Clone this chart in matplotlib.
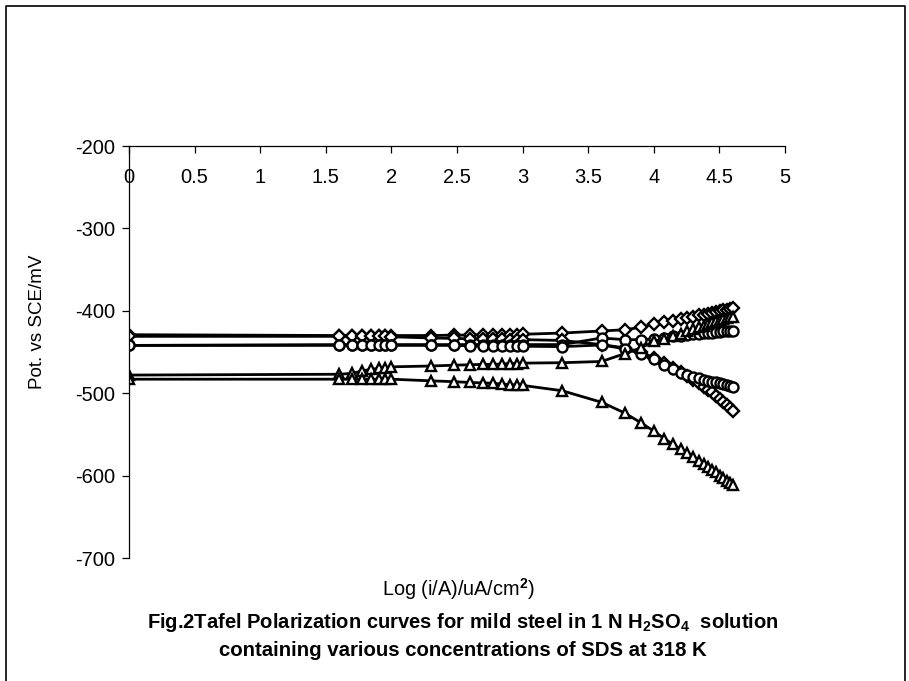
import matplotlib
matplotlib.use("Agg")
import matplotlib.pyplot as plt
from matplotlib.lines import Line2D

plt.rcParams['font.family'] = ['Liberation Sans', 'DejaVu Sans']
plt.rcParams['mathtext.fontset'] = 'custom'
plt.rcParams['mathtext.rm'] = 'Liberation Sans'
plt.rcParams['mathtext.bf'] = 'Liberation Sans:bold'
plt.rcParams['axes.unicode_minus'] = False

# log(i) values, same for every curve
log_i = [0, 1.602, 1.699, 1.778, 1.845, 1.903, 1.954, 2.0,
         2.301, 2.477, 2.602, 2.699, 2.778, 2.845, 2.903, 2.954, 3.0,
         3.301, 3.602, 3.778, 3.903, 4.0,
         4.079, 4.146, 4.204, 4.255, 4.301, 4.342, 4.380, 4.415,
         4.447, 4.477, 4.505, 4.531, 4.556, 4.580, 4.602]

diamond_anodic = [-429, -430, -430, -430, -430, -430, -430, -430,
                  -430, -429.5, -429.5, -429, -429, -429, -429, -429, -428.5,
                  -427, -424.5, -423, -420, -416,
                  -414, -412, -410, -408.5, -407, -405.5, -404.5, -403.5,
                  -402.5, -401.5, -400.5, -399.5, -399, -398, -397]
diamond_cathodic = [-431, -431, -431, -431, -431, -431, -431, -431.5,
                    -433, -433.5, -434, -434, -434.5, -434.5, -435, -435, -435,
                    -436, -441, -445, -450, -457,
                    -463, -469, -474, -479, -484, -488, -492, -496,
                    -499, -503, -507, -511, -514, -518, -522]
circle_anodic = [-442, -441, -441, -441, -441, -441, -441, -441,
                 -441, -441, -441, -441, -441, -441, -441, -441, -441,
                 -441, -433, -435, -435, -434,
                 -432.5, -431, -430, -429, -428.5, -428, -427.5, -427,
                 -426.5, -426, -425.5, -425, -425, -424.5, -424]
circle_cathodic = [-442, -442, -442, -442, -442, -442, -442, -442,
                   -442, -442, -442.5, -442.5, -442.5, -443, -443, -443, -443,
                   -443.5, -441.5, -446, -452, -459,
                   -466, -471, -475, -478, -480, -482, -483.5, -485,
                   -486, -487, -488, -489, -490, -491, -492]
triangle_anodic = [-478, -477, -476, -473, -471, -470, -469, -468,
                   -467, -466, -465.5, -465, -465, -464.5, -464, -464, -463.5,
                   -463, -461.5, -452, -445, -437,
                   -434, -431, -428, -425, -422, -420, -418, -416,
                   -414, -412.5, -411, -410, -409, -408, -407]
triangle_cathodic = [-483, -483, -483, -483, -483, -483, -483, -483,
                     -485, -486, -487, -487.5, -488, -489, -489.5, -490, -490.5,
                     -497, -511, -524, -536, -546,
                     -555, -562, -568, -573, -578, -582, -586, -590,
                     -593, -596, -600, -603, -606, -609, -612]

series = [
    (diamond_anodic, 'D', 6),
    (diamond_cathodic, 'D', 6),
    (circle_anodic, 'o', 7.2),
    (circle_cathodic, 'o', 7.2),
    (triangle_anodic, '^', 7.8),
    (triangle_cathodic, '^', 7.8),
]

fig = plt.figure(figsize=(9.09, 6.81), dpi=100)
ax = fig.add_axes([129 / 909, 1 - 558 / 681, 656 / 909, 412 / 681])

for y, m, ms in series:
    ax.plot(log_i, y, color='black', lw=2, marker=m, markersize=ms,
            markerfacecolor='white', markeredgecolor='black', markeredgewidth=1.7)

ax.set_xlim(0, 5)
ax.set_ylim(-700, -200)
ax.set_xticks([0, 0.5, 1, 1.5, 2, 2.5, 3, 3.5, 4, 4.5, 5])
ax.set_xticklabels(['0', '0.5', '1', '1.5', '2', '2.5', '3', '3.5', '4', '4.5', '5'])
ax.set_yticks([-700, -600, -500, -400, -300, -200])

ax.spines['top'].set_visible(False)
ax.spines['right'].set_visible(False)
ax.spines['bottom'].set_position(('data', -200))
for s in ('left', 'bottom'):
    ax.spines[s].set_linewidth(0.9)
ax.tick_params(axis='both', direction='out', length=5, width=0.9, labelsize=14.5, colors='black')
ax.tick_params(axis='x', pad=11)
ax.tick_params(axis='y', pad=5)

fig.text(458 / 909, 1 - 589 / 681, r'Log (i/A)/uA/cm$^{\mathbf{2}}$)', ha='center', va='center', fontsize=14.3)
fig.text(38 / 909, 1 - 322 / 681, 'Pot. vs SCE/mV', ha='center', va='center', rotation=90, fontsize=13.5)
fig.text(463 / 909, 1 - 622 / 681,
         r'Fig.2Tafel Polarization curves for mild steel in 1 N H$_{\mathbf{2}}$SO$_{\mathbf{4}}$  solution',
         ha='center', va='center', fontsize=14.5, fontweight='bold')
fig.text(463 / 909, 1 - 650 / 681, 'containing various concentrations of SDS at 318 K',
         ha='center', va='center', fontsize=14.7, fontweight='bold')

# outer frame (open at the bottom)
fx = [6 / 909, 6 / 909, 905 / 909, 905 / 909]
fy = [0, 1 - 6 / 681, 1 - 6 / 681, 0]
fig.add_artist(Line2D(fx, fy, transform=fig.transFigure, color='black', lw=1.2))

fig.savefig('out.png', dpi=100, facecolor='white')
